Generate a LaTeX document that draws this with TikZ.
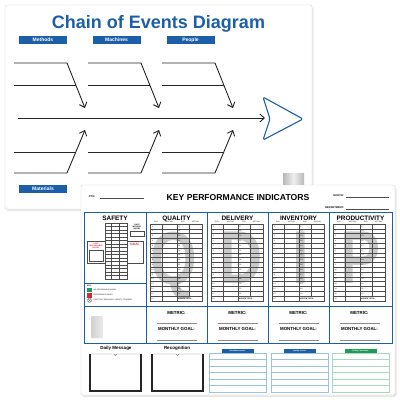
\documentclass[tikz,border=0pt]{standalone}
\usepackage{fontspec}
\setmainfont{Liberation Sans}
\usetikzlibrary{arrows.meta,shadows}

\definecolor{kpiblue}{HTML}{1C5FA8}
\definecolor{kpigreen}{HTML}{1F9B57}
\definecolor{kpired}{HTML}{D42A35}
\definecolor{rowblue}{HTML}{9CC2E2}
\definecolor{rowgreen}{HTML}{A9D8BE}
\definecolor{ltrgrey}{HTML}{C9C9C9}

\newcommand{\fsz}[1]{\fontsize{#1}{#1}\selectfont}

\begin{document}
\begin{tikzpicture}[x=1pt,y=-1pt,>={Straight Barb[length=4.5pt,width=8pt]},
                    bone/.style={line width=0.9pt,draw=black!85},
                    catbox/.style={fill=kpiblue,text=white,font=\bfseries\fsz{5},
                      minimum width=48pt,minimum height=8pt,inner sep=0pt},
                    kpiboard/.style={draw=black!18,fill=white,rounded corners=2pt,
                      drop shadow={opacity=0.18,shadow xshift=1.5pt,shadow yshift=-2pt}},
                    colhead/.style={font=\bfseries\fsz{6.4},inner sep=0pt,anchor=base},
                    smalltxt/.style={font=\fsz{1.8},inner sep=0pt},
                    tabline/.style={draw=black!70,line width=0.3pt},
                    blueline/.style={draw=kpiblue,line width=0.9pt},
                    bigltr/.style={font=\bfseries\fsz{75},text=ltrgrey,inner sep=0pt,anchor=base},
                    metric/.style={font=\bfseries\fsz{4.4},inner sep=0pt}]
  \useasboundingbox (0,0) rectangle (400,400);

  % back board: chain of events
  \path[kpiboard] (5,5) rectangle (312,209);
  \node[font=\bfseries\fsz{18},text=kpiblue,inner sep=0pt,anchor=base] (title) at (158.5,28.5) {Chain of Events Diagram};

  \node[catbox] (methods)   at (43,40)    {Methods};
  \node[catbox] (machines)  at (116.5,40) {Machines};
  \node[catbox] (people)    at (190.5,40) {People};
  \node[catbox] (materials) at (43,189)   {Materials};
  \node[catbox] (measures)  at (116.5,189) {};
  \node[catbox] (environ)   at (190.5,189) {};

  \foreach \bx in {14,88,162}{
    \draw[bone,->] (\bx,63) -- (\bx+53,63) -- (\bx+71,108);
    \draw[bone] (\bx,85) -- (\bx+62,85);
    \draw[bone,->] (\bx,173) -- (\bx+53,173) -- (\bx+71,130);
    \draw[bone] (\bx,152) -- (\bx+62,152);
  }
  \coordinate (tail) at (18,118);
  \coordinate (head) at (265,118);
  \draw[bone,->] (tail) -- (head);
  \draw[kpiblue,line width=1.1pt,rounded corners=1.5pt,line join=round]
    (263,97) -- (303,119) -- (263,140) -- (270,119) -- cycle;

  % magnet clip
  \shade[left color=black!28,right color=black!28,middle color=black!6] (283,173) rectangle (304,186);

  % front board: KPI
  \path[kpiboard] (81,185) rectangle (395,395);
  \node[font=\bfseries\fsz{2.6},inner sep=0pt,anchor=west] (ptd) at (89,196.5) {PTD:};
  \draw[black!70,line width=0.4pt] (100,198) -- (144,198);
  \node[font=\bfseries\fsz{8.6},inner sep=0pt,anchor=base] (kpi) at (238,200) {KEY PERFORMANCE INDICATORS};
  \node[font=\bfseries\fsz{2.6},inner sep=0pt,anchor=east] (month) at (344,196) {MONTH:};
  \draw[black!70,line width=0.4pt] (346,197.5) -- (389,197.5);
  \node[font=\bfseries\fsz{2.6},inner sep=0pt,anchor=east] (dept) at (344,208) {DEPARTMENT:};
  \draw[black!70,line width=0.4pt] (346,209.5) -- (389,209.5);

  % big letters
  \node[bigltr] (qltr) at (174,284) {\scalebox{0.8}[1]{Q}};
  \node[bigltr] (dltr) at (241,283) {\scalebox{0.8}[1]{D}};
  \node[bigltr] (iltr) at (301,283) {\scalebox{0.8}[1]{I}};
  \node[bigltr] (pltr) at (361,283) {\scalebox{0.8}[1]{P}};

  % day tables
  \foreach \cx in {146,207,268,329}{
    \draw[tabline] (\cx+4,224) rectangle (\cx+56,300.8);
    \draw[tabline] (\cx+16,224) -- (\cx+16,300.8);
    \draw[tabline] (\cx+31,224) -- (\cx+31,300.8);
    \draw[tabline] (\cx+43,224) -- (\cx+43,296);
    \foreach \r in {1,...,15}
      \draw[tabline] (\cx+4,{224+\r*4.8}) -- (\cx+56,{224+\r*4.8});
    \node[smalltxt] (d1\cx) at (\cx+10,222.2) {DAY};
    \node[smalltxt] (a1\cx) at (\cx+23.5,222.2) {ACTUAL};
    \node[smalltxt] (d2\cx) at (\cx+37,222.2) {DAY};
    \node[smalltxt] (a2\cx) at (\cx+49.5,222.2) {ACTUAL};
    \foreach \r in {1,...,16}
      \node[smalltxt] (n\cx-\r) at (\cx+6.5,{224+(\r-0.5)*4.8}) {\r};
    \foreach \r [evaluate=\r as \d using int(\r+16)] in {1,...,15}
      \node[smalltxt] (m\cx-\r) at (\cx+33.5,{224+(\r-0.5)*4.8}) {\d};
    \node[smalltxt,font=\bfseries\fsz{1.9},anchor=west] (tot\cx) at (\cx+32,298.4) {MONTH TOTAL:};
  }

  % blue frame
  \draw[blueline] (84,212) rectangle (392,343);
  \foreach \cx in {146,207,268,329}
    \draw[blueline] (\cx,212) -- (\cx,343);
  \draw[blueline] (84,306) -- (392,306);
  \draw[blueline] (84,283) -- (146,283);

  \node[colhead] (safety)   at (115,220)   {SAFETY};
  \node[colhead] (quality)  at (176.5,220) {QUALITY};
  \node[colhead] (delivery) at (237.5,220) {DELIVERY};
  \node[colhead] (invent)   at (298.5,220) {INVENTORY};
  \node[colhead] (product)  at (360.5,220) {PRODUCTIVITY};

  % safety cross
  \draw[tabline,fill=white] (87,241) rectangle (105,263);
  \draw[tabline,fill=white] (127,241) rectangle (143,263);
  \draw[tabline] (105,223) rectangle (127,279);
  \foreach \sx in {111,119}
    \draw[tabline] (\sx,223) -- (\sx,279);
  \foreach \r in {1,...,15}
    \draw[tabline] (105,{223+\r*3.5}) -- (127,{223+\r*3.5});
  \node[smalltxt,text=kpired,font=\bfseries\fsz{1.9},align=center] (lastinj) at (96,245.5) {LAST\\RECORDABLE\\INJURY};
  \draw[tabline] (89,250) rectangle (103,261);
  \node[text=kpired,font=\bfseries\fsz{3.2},inner sep=0pt] (goal) at (135,244) {GOAL};
  \node[smalltxt,font=\bfseries\fsz{1.9},align=center] (dayswo) at (137,226.5) {DAYS\\WITHOUT\\INJURY};
  \draw[tabline] (130,231.5) rectangle (144,236);

  % safety key
  \node[smalltxt,font=\bfseries\fsz{1.9},anchor=west] (key) at (87,285.8) {KEY:};
  \fill[kpigreen] (87,287.5) rectangle (92,292);
  \fill[kpired] (87,292.5) rectangle (92,297.5);
  \draw[black!60,line width=0.3pt] (89.5,300.3) circle (2.1pt);
  \draw[black!60,line width=0.3pt] (88,298.8) -- (91,301.8) (88,301.8) -- (91,298.8);
  \node[smalltxt,anchor=west] (knone) at (93.5,290) {NO RECORDABLE INJURY};
  \node[smalltxt,anchor=west] (krec)  at (93.5,295) {RECORDABLE INJURY};
  \node[smalltxt,anchor=west] (kaid)  at (93.5,300.3) {FIRST AID / NEAR MISS / SAFETY CONCERN};

  % metric row
  \shade[rounded corners=1pt,left color=black!18,right color=black!8] (91,316) rectangle (103,338);
  \foreach \cx in {146,207,268,329}{
    \node[metric] (met\cx) at (\cx+30.5,313) {METRIC:};
    \draw[black!45,line width=0.5pt] (\cx+11,323) -- (\cx+51,323);
    \node[metric] (goal\cx) at (\cx+30.5,329) {MONTHLY GOAL:};
    \draw[black!45,line width=0.5pt] (\cx+11,340) -- (\cx+51,340);
  }

  % pockets
  \node[font=\bfseries\fsz{4.5},inner sep=0pt] (dailymsg) at (116,348) {Daily Message};
  \node[font=\bfseries\fsz{4.5},inner sep=0pt] (recog) at (177,348) {Recognition};
  \foreach \px in {89,151}{
    \draw[black!50,line width=0.4pt] (\px,354) -- (\px+25,354) -- (\px+26.5,355.5) -- (\px+28,354) -- (\px+53,354);
    \draw[black!85,line width=1.6pt] (\px+0.8,354) -- (\px+0.8,391.2) -- (\px+52.2,391.2) -- (\px+52.2,354);
  }

  % lined boxes
  \foreach \lx/\lc/\bc/\ttl in {209/rowblue/kpiblue/Downtime Issues,
                                271/rowblue/kpiblue/Quality Issues,
                                332/rowgreen/kpigreen/Safety Committee}{
    \draw[\lc,line width=0.5pt] (\lx,353) rectangle (\lx+57,392);
    \foreach \r in {1,...,5}
      \draw[\lc,line width=0.5pt] (\lx,{353+\r*6.5}) -- (\lx+57,{353+\r*6.5});
    \node[fill=\bc,text=white,font=\bfseries\fsz{1.9},minimum width=32pt,
          minimum height=3.8pt,inner sep=0pt] (bar\lx) at (\lx+28.5,350.6) {\ttl};
  }
\end{tikzpicture}
\end{document}
